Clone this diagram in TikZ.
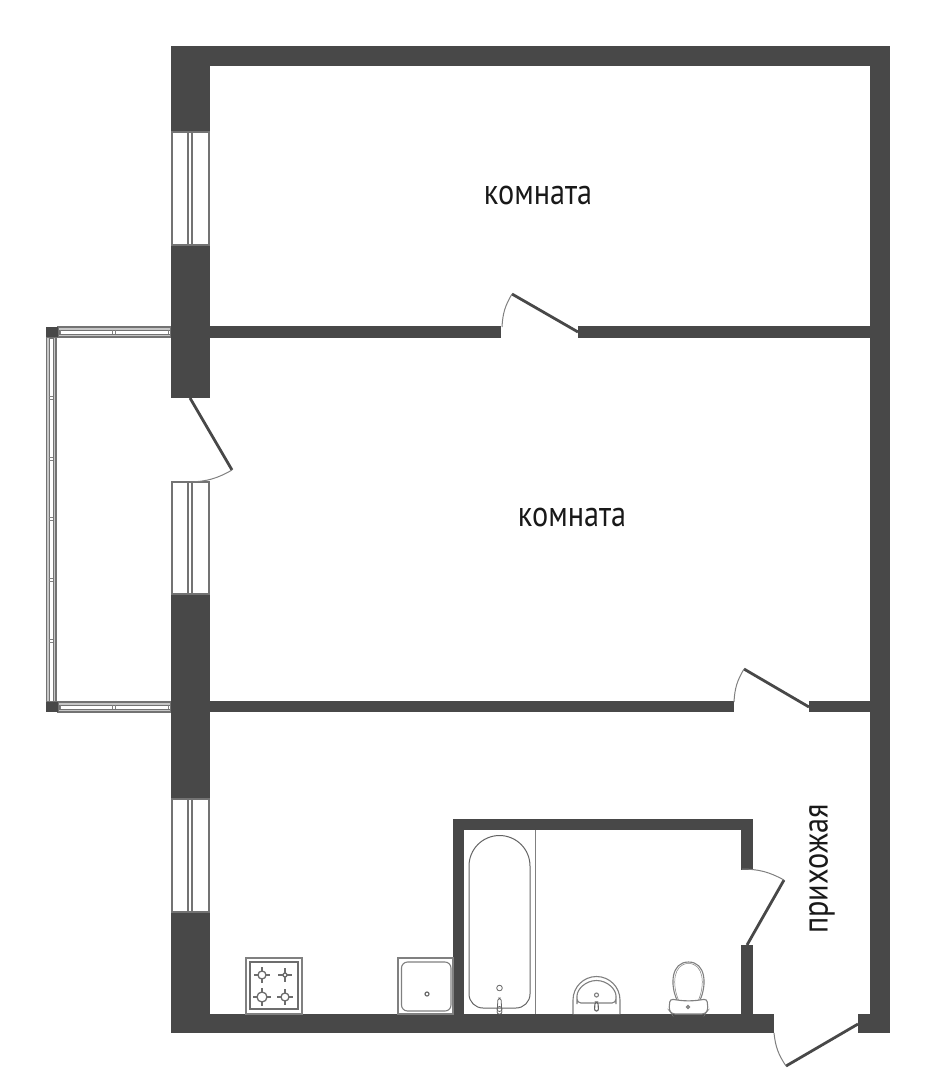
\documentclass[tikz,border=0pt]{standalone}
\usepackage{fontspec}
\setmainfont[FakeStretch=0.84]{PT Sans}
\definecolor{wallgrey}{HTML}{484848}
\definecolor{fixgrey}{HTML}{808080}
\tikzset{
  wall/.style={fill=wallgrey,draw=none},
  leaf/.style={draw=wallgrey,line width=2.8pt},
  swing/.style={draw=fixgrey,line width=1pt},
  fixture/.style={draw=fixgrey,line width=1.1pt,fill=white},
  rail/.style={draw=black!55,line width=1.1pt,fill=black!22},
  railin/.style={draw=black!55,line width=0.9pt,fill=white},
  glazing/.style={draw=black!55,line width=1.2pt,fill=white},
  burner/.style={draw=wallgrey!80,line width=1.3pt},
  roomlabel/.style={font=\fontsize{36}{36}\selectfont,text=black!90}
}
\begin{document}
\begin{tikzpicture}[x=1pt,y=-1pt]
\useasboundingbox (0,0) rectangle (936,1080);

% balcony
\draw[rail] (58,327) rectangle (171,337);
\draw[railin] (59,330) rectangle (170,334);
\draw[rail] (58,702) rectangle (171,712);
\draw[railin] (59,705) rectangle (170,709);
\draw[rail] (46.5,337) rectangle (56,702);
\draw[railin] (49,338) rectangle (53,701);
\fill[wall] (46,327) rectangle (58,337);
\fill[wall] (46,702) rectangle (58,712);
\draw[fixgrey] (112,330) -- (112,334) (115,330) -- (115,334) (60,330) -- (60,334) (168,330) -- (168,334);
\draw[fixgrey] (112,705) -- (112,709) (115,705) -- (115,709) (60,705) -- (60,709) (168,705) -- (168,709);
\draw[fixgrey] (49,396) -- (53,396) (49,399) -- (53,399) (49,457) -- (53,457) (49,460) -- (53,460);
\draw[fixgrey] (49,517) -- (53,517) (49,520) -- (53,520) (49,578) -- (53,578) (49,581) -- (53,581);
\draw[fixgrey] (49,639) -- (53,639) (49,642) -- (53,642);

% outer walls
\fill[wall] (171,46) rectangle (890,66);
\fill[wall] (870,46) rectangle (890,1033);
\fill[wall] (171,46) rectangle (210,132);
\fill[wall] (171,245) rectangle (210,398);
\fill[wall] (171,594) rectangle (210,799);
\fill[wall] (171,912) rectangle (210,1033);
\fill[wall] (171,1014) rectangle (774,1033);
\fill[wall] (858,1014) rectangle (890,1033);

% partitions
\fill[wall] (210,326) rectangle (501,338);
\fill[wall] (578,326) rectangle (870,338);
\fill[wall] (210,701) rectangle (734,712);
\fill[wall] (809,701) rectangle (870,712);

% bathroom walls
\fill[wall] (453,819) rectangle (753,830);
\fill[wall] (453,819) rectangle (464,1014);
\fill[wall] (741,819) rectangle (753,870);
\fill[wall] (741,945) rectangle (753,1014);

% windows
\draw[glazing] (172,132) rectangle (209,245);
\draw[glazing] (188,132) rectangle (192,245);
\draw[glazing] (172,482) rectangle (209,594);
\draw[glazing] (188,482) rectangle (192,594);
\draw[glazing] (172,799) rectangle (209,912);
\draw[glazing] (188,799) rectangle (192,912);

% doors
\draw[leaf] (578,332) -- (512,294);
\draw[swing] (512,294) to[bend right=14] (502,327);
\draw[leaf] (809,707) -- (744,669);
\draw[swing] (744,669) to[bend right=14] (734,702);
\draw[leaf] (190,398) -- (232,470);
\draw[swing] (232,470) to[bend left=14] (190,482);
\draw[leaf] (747,945) -- (784,880);
\draw[swing] (784,880) to[bend right=14] (742,869);
\draw[leaf] (858,1024) -- (786,1066);
\draw[swing] (786,1066) to[bend left=14] (774,1033);

% kitchen
\draw[fixture] (246,958) rectangle (302,1014);
\draw[draw=wallgrey!80,line width=1.3pt] (250,962) rectangle (298,1009);
\draw[burner] (254,975) -- (270,975) (262,967) -- (262,983);
\draw[burner,fill=white] (262,975) circle (4);
\draw[burner] (278,975) -- (292,975) (285,968) -- (285,982);
\draw[burner,fill=white] (285,975) circle (2);
\draw[burner] (253,997) -- (271,997) (262,988) -- (262,1006);
\draw[burner,fill=white] (262,997) circle (5);
\draw[burner] (277,997) -- (293,997) (285,989) -- (285,1005);
\draw[burner,fill=white] (285,997) circle (4);
\draw[fixture] (398,958) rectangle (453,1014);
\draw[fixture,rounded corners=6] (401.5,962) rectangle (451,1011);
\draw[fixture,draw=wallgrey!80,line width=1.2pt] (427,994) circle (2);

% bath
\draw[fixgrey,line width=1pt] (535,830) -- (535,1014);
\draw[draw=wallgrey!85,line width=1pt] (469,866) arc (180:360:30.5) -- (530,994) arc (0:90:14) -- (483,1008) arc (90:180:14) -- cycle;
\draw[draw=wallgrey!85,line width=0.8pt] (499.5,988) circle (2.8);
\draw[draw=wallgrey!85,line width=0.8pt,rounded corners=2] (497,1014) -- (498,998) -- (501,998) -- (502,1014) -- cycle;
\draw[draw=wallgrey!85,line width=0.8pt] (499.5,1009) circle (2.5);

% washbasin
\draw[fixture] (573,1014) -- (573,1000) arc (180:360:23.5) -- (620,1014);
\draw[fixture,rounded corners=4] (577,1003) -- (577,1000) arc (180:360:19.5) -- (616,1003) -- cycle;
\draw[fixture] (596.5,995) circle (2);
\draw[fixture,draw=wallgrey!85,rounded corners=2] (594.5,1011) -- (595,1002) -- (598,1002) -- (598.5,1011) -- cycle;

% toilet
\draw[fixture] (677,1000) .. controls (670,985) and (671,962) .. (688.5,962) .. controls (706,962) and (707,985) .. (700,1000);
\draw[fixture,line width=0.5pt] (678.5,1000) .. controls (672,985) and (673,963.5) .. (688.5,963.5) .. controls (704,963.5) and (705,985) .. (698.5,1000);
\draw[fixture,rounded corners=3] (670,999) -- (677,1000) .. controls (685,1001) and (692,1001) .. (700,1000) -- (707,999) -- (708,1010) -- (705,1014) -- (672,1014) -- (669,1010) -- cycle;
\draw[fixture] (688,1007) circle (1.5);

% labels
\node[roomlabel] (room1) at (538,195) {комната};
\node[roomlabel] (room2) at (572,517) {комната};
\node[roomlabel,rotate=90] (hall) at (822,869) {прихожая};
\end{tikzpicture}
\end{document}
